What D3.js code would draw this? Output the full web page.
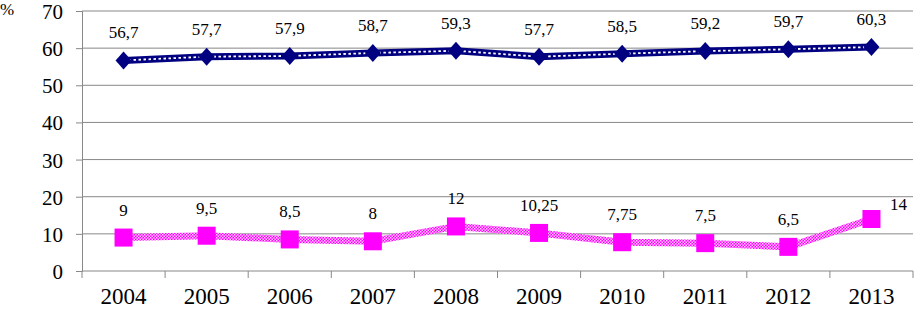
<!DOCTYPE html>
<html>
<head>
<meta charset="utf-8">
<script src="https://cdn.jsdelivr.net/npm/d3@7"></script>
<style>
  body { margin: 0; background: #fff; }
  svg { display: block; }
</style>
</head>
<body>
<div id="chart"></div>
<script>
const years = ["2004", "2005", "2006", "2007", "2008", "2009", "2010", "2011", "2012", "2013"];
const topSeries = [56.7, 57.7, 57.9, 58.7, 59.3, 57.7, 58.5, 59.2, 59.7, 60.3];
const topLabels = ["56,7", "57,7", "57,9", "58,7", "59,3", "57,7", "58,5", "59,2", "59,7", "60,3"];
const lowSeries = [9, 9.5, 8.5, 8, 12, 10.25, 7.75, 7.5, 6.5, 14];
const lowLabels = ["9", "9,5", "8,5", "8", "12", "10,25", "7,75", "7,5", "6,5", "14"];
const yTicks = [0, 10, 20, 30, 40, 50, 60, 70];

const width = 915, height = 309;
const plotLeft = 82, plotRight = 913, plotTop = 11, plotBottom = 271;
const serif = "'Liberation Serif', 'Times New Roman', serif";

const svg = d3.select("#chart").append("svg")
    .attr("width", width)
    .attr("height", height);

const defs = svg.append("defs");
const checker = defs.append("pattern")
    .attr("id", "checker")
    .attr("patternUnits", "userSpaceOnUse")
    .attr("width", 3).attr("height", 3);
checker.append("rect").attr("width", 3).attr("height", 3).attr("fill", "#ff00ff");
checker.append("rect").attr("x", 0).attr("y", 0).attr("width", 1.5).attr("height", 1.5).attr("fill", "#ffc8ff");
checker.append("rect").attr("x", 1.5).attr("y", 1.5).attr("width", 1.5).attr("height", 1.5).attr("fill", "#ffc8ff");

const x = d3.scaleBand().domain(years).range([plotLeft, plotRight]);
const y = d3.scaleLinear().domain([0, 70]).range([plotBottom, plotTop]);
const cx = d => x(d) + x.bandwidth() / 2;

// gridlines
svg.append("g")
    .selectAll("line")
    .data(yTicks.filter(t => t > 0))
    .enter()
    .append("line")
    .attr("x1", plotLeft).attr("x2", plotRight)
    .attr("y1", d => y(d)).attr("y2", d => y(d))
    .style("stroke", "#888")
    .style("stroke-width", 1);

// y axis
const yAxis = svg.append("g")
    .attr("transform", `translate(${plotLeft},0)`)
    .call(d3.axisLeft(y).tickValues(yTicks).tickSize(6).tickPadding(13));
yAxis.selectAll("text")
    .attr("dy", "0.36em")
    .style("font-family", serif)
    .style("font-size", "21px")
    .style("fill", "#000");
yAxis.selectAll("line, path").style("stroke", "#888");

// x axis with ticks between categories
const xAxis = svg.append("g")
    .attr("transform", `translate(0,${plotBottom})`);
xAxis.append("line")
    .attr("x1", plotLeft).attr("x2", plotRight)
    .style("stroke", "#888");
xAxis.selectAll(".sep")
    .data(years.concat(["end"]))
    .enter()
    .append("line")
    .attr("class", "sep")
    .attr("x1", (d, i) => plotLeft + i * x.bandwidth())
    .attr("x2", (d, i) => plotLeft + i * x.bandwidth())
    .attr("y1", 0).attr("y2", 7)
    .style("stroke", "#888");
xAxis.selectAll(".yr")
    .data(years)
    .enter()
    .append("text")
    .attr("class", "yr")
    .attr("x", d => cx(d))
    .attr("y", 33)
    .attr("text-anchor", "middle")
    .style("font-family", serif)
    .style("font-size", "23px")
    .text(d => d);

svg.append("text")
    .attr("x", 0).attr("y", 15)
    .style("font-family", serif)
    .style("font-size", "17px")
    .text("%");

const line = d3.line().x((d, i) => cx(years[i])).y(d => y(d));

// top series: navy with white dotted core
svg.append("path")
    .datum(topSeries)
    .attr("d", line)
    .style("fill", "none")
    .style("stroke", "#000080")
    .style("stroke-width", 7);
svg.append("path")
    .datum(topSeries)
    .attr("d", line)
    .style("fill", "none")
    .style("stroke", "#fff")
    .style("stroke-width", 1.8)
    .style("stroke-dasharray", "2.5,2.5");

svg.append("g")
    .selectAll("path")
    .data(topSeries)
    .enter()
    .append("path")
    .attr("transform", (d, i) => `translate(${cx(years[i])},${y(d)})`)
    .attr("d", "M0,-9L8,0L0,9L-8,0Z")
    .style("fill", "#000080");

// low series: checkered magenta
svg.append("path")
    .datum(lowSeries)
    .attr("d", line)
    .style("fill", "none")
    .style("stroke", "url(#checker)")
    .style("stroke-width", 7);

svg.append("g")
    .selectAll("rect")
    .data(lowSeries)
    .enter()
    .append("rect")
    .attr("x", (d, i) => cx(years[i]) - 9)
    .attr("y", d => y(d) - 9)
    .attr("width", 18).attr("height", 18)
    .style("fill", "#ff00ff");

// data labels
svg.append("g")
    .selectAll("text")
    .data(topSeries)
    .enter()
    .append("text")
    .attr("x", (d, i) => cx(years[i]))
    .attr("y", d => y(d) - 22)
    .attr("text-anchor", "middle")
    .style("font-family", serif)
    .style("font-size", "17px")
    .text((d, i) => topLabels[i]);

svg.append("g")
    .selectAll("text")
    .data(lowSeries)
    .enter()
    .append("text")
    .attr("x", (d, i) => cx(years[i]) + (i === years.length - 1 ? 27 : 0))
    .attr("y", (d, i) => y(d) - (i === years.length - 1 ? 9 : 22))
    .attr("text-anchor", "middle")
    .style("font-family", serif)
    .style("font-size", "17px")
    .text((d, i) => lowLabels[i]);
</script>
</body>
</html>
